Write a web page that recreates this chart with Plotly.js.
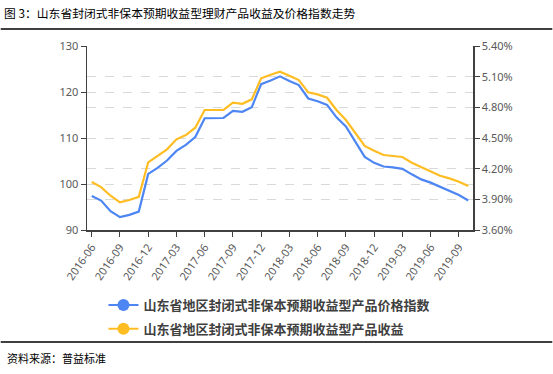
<!DOCTYPE html>
<html>
<head>
<meta charset="utf-8">
<script src="https://cdn.plot.ly/plotly-3.0.1.min.js"></script>
<style>html,body{margin:0;padding:0;background:#fff;}#chart{width:553px;height:374px;}</style>
</head>
<body>
<div id="chart"></div>
<script>
const months = ['2016-06','2016-07','2016-08','2016-09','2016-10','2016-11','2016-12',
  '2017-01','2017-02','2017-03','2017-04','2017-05','2017-06','2017-07','2017-08','2017-09','2017-10','2017-11','2017-12',
  '2018-01','2018-02','2018-03','2018-04','2018-05','2018-06','2018-07','2018-08','2018-09','2018-10','2018-11','2018-12',
  '2019-01','2019-02','2019-03','2019-04','2019-05','2019-06','2019-07','2019-08','2019-09','2019-10'];
const priceIndex = [97.4, 96.4, 94.1, 92.8, 93.3, 94.0, 102.2, 103.5, 105.1, 107.2, 108.5, 110.2,
  114.3, 114.4, 114.35, 115.9, 115.7, 116.7, 121.7, 122.5, 123.4, 122.4, 121.5, 118.6, 118.0, 117.2,
  114.5, 112.5, 109.2, 105.9, 104.6, 103.8, 103.6, 103.3, 102.1, 101.0, 100.3, 99.4, 98.5, 97.6, 96.4];
const yieldPct = [4.07, 4.02, 3.935, 3.87, 3.893, 3.925, 4.262, 4.324, 4.389, 4.487, 4.529, 4.601,
  4.774, 4.774, 4.774, 4.845, 4.835, 4.878, 5.084, 5.119, 5.148, 5.11, 5.067, 4.947, 4.927, 4.894,
  4.774, 4.676, 4.545, 4.422, 4.376, 4.334, 4.324, 4.314, 4.258, 4.213, 4.17, 4.131, 4.105, 4.072, 4.03];
const tickLabels = ['2016-06','2016-09','2016-12','2017-03','2017-06','2017-09','2017-12',
  '2018-03','2018-06','2018-09','2018-12','2019-03','2019-06','2019-09'];
const seriesNames = ['山东省地区封闭式非保本预期收益型产品价格指数', '山东省地区封闭式非保本预期收益型产品收益'];
const titleText = '图 3：山东省封闭式非保本预期收益型理财产品收益及价格指数走势';
const sourceText = '资料来源：普益标准';

const BLUE = '#4D86F3', YELLOW = '#FFBD24';
const gridX = [];
for (let i = 0; i < months.length; i++) { if (i % 3 === 1 && i + 0.5 < months.length - 1) gridX.push(i + 0.5); }

const traces = [
  {x: months, y: priceIndex, type: 'scatter', mode: 'lines', line: {color: BLUE, width: 2.2},
   showlegend: false, legendgroup: 'a', hoverinfo: 'skip'},
  {x: months, y: yieldPct, type: 'scatter', mode: 'lines', yaxis: 'y2', line: {color: YELLOW, width: 2.2},
   showlegend: false, legendgroup: 'b', hoverinfo: 'skip'},
  {x: [null], y: [null], type: 'scatter', mode: 'lines+markers', name: seriesNames[0], legendgroup: 'a',
   line: {color: BLUE, width: 2}, marker: {color: BLUE, size: 12}},
  {x: [null], y: [null], type: 'scatter', mode: 'lines+markers', name: seriesNames[1], legendgroup: 'b',
   yaxis: 'y2', line: {color: YELLOW, width: 2}, marker: {color: YELLOW, size: 12}}
];

const tickFont = {family: 'Noto Sans, sans-serif', size: 11, color: '#595959'};
const L = 86.5, R = 473.5, T = 46, B = 230, W = 553, H = 374;
const pw = R - L, ph = B - T;
const px = v => (v - L) / pw, py = v => (B - v) / ph;

const layout = {
  width: W, height: H,
  margin: {l: L, r: W - R, t: T, b: H - B},
  paper_bgcolor: '#fff', plot_bgcolor: '#fff',
  title: {text: titleText, x: 4 / W, xanchor: 'left', xref: 'container', y: 1 - 14 / H, yanchor: 'middle', yref: 'container',
    font: {family: 'Noto Sans CJK SC', size: 11.8, color: '#000'}},
  xaxis: {type: 'category', categoryorder: 'array', categoryarray: months, range: [-0.5, months.length - 0.5],
    tickmode: 'array', tickvals: tickLabels, ticktext: tickLabels, tickangle: -55, tickfont: tickFont,
    showgrid: false, zeroline: false, showline: true, linecolor: '#404040', linewidth: 1.5,
    ticks: 'outside', ticklen: 5, tickcolor: '#404040', tickwidth: 1},
  xaxis2: {overlaying: 'x', type: 'linear', range: [-0.5, months.length - 0.5], tickmode: 'array', tickvals: gridX,
    showticklabels: false, ticks: '', showgrid: true, gridcolor: '#D9D9D9', griddash: 'dash', gridwidth: 1, zeroline: false},
  yaxis: {range: [90, 130], dtick: 10, tick0: 90, tickfont: tickFont, showgrid: true, gridcolor: '#D9D9D9', griddash: 'dash',
    zeroline: false, showline: true, linecolor: '#404040', linewidth: 1.5, ticks: 'outside', ticklen: 5, tickcolor: '#404040'},
  yaxis2: {overlaying: 'y', side: 'right', range: [3.6, 5.4], dtick: 0.3, tick0: 3.6, tickformat: '.2f', ticksuffix: '%',
    tickfont: tickFont, showgrid: true, gridcolor: '#D9D9D9', griddash: 'dash', zeroline: false, showline: true,
    linecolor: '#404040', linewidth: 1.5, ticks: 'outside', ticklen: 5, tickcolor: '#404040'},
  legend: {orientation: 'v', x: px(103), xanchor: 'left', y: py(290), yanchor: 'top', traceorder: 'grouped', tracegroupgap: 4,
    font: {family: 'Noto Sans CJK SC', size: 13, color: '#404040', weight: 600}, bgcolor: 'rgba(0,0,0,0)'},
  shapes: [
    {type: 'line', xref: 'paper', yref: 'paper', x0: px(0), x1: px(W), y0: py(29), y1: py(29), line: {color: '#000', width: 1.5}},
    {type: 'line', xref: 'paper', yref: 'paper', x0: px(0), x1: px(W), y0: py(342), y1: py(342), line: {color: '#000', width: 1.5}}
  ],
  annotations: [
    {text: sourceText, xref: 'paper', yref: 'paper', x: px(4), y: py(358), xanchor: 'left', yanchor: 'middle', showarrow: false,
     font: {family: 'Noto Sans CJK SC', size: 11, color: '#000'}}
  ]
};

Plotly.newPlot('chart', traces, layout, {staticPlot: true, displayModeBar: false});
</script>
</body>
</html>
